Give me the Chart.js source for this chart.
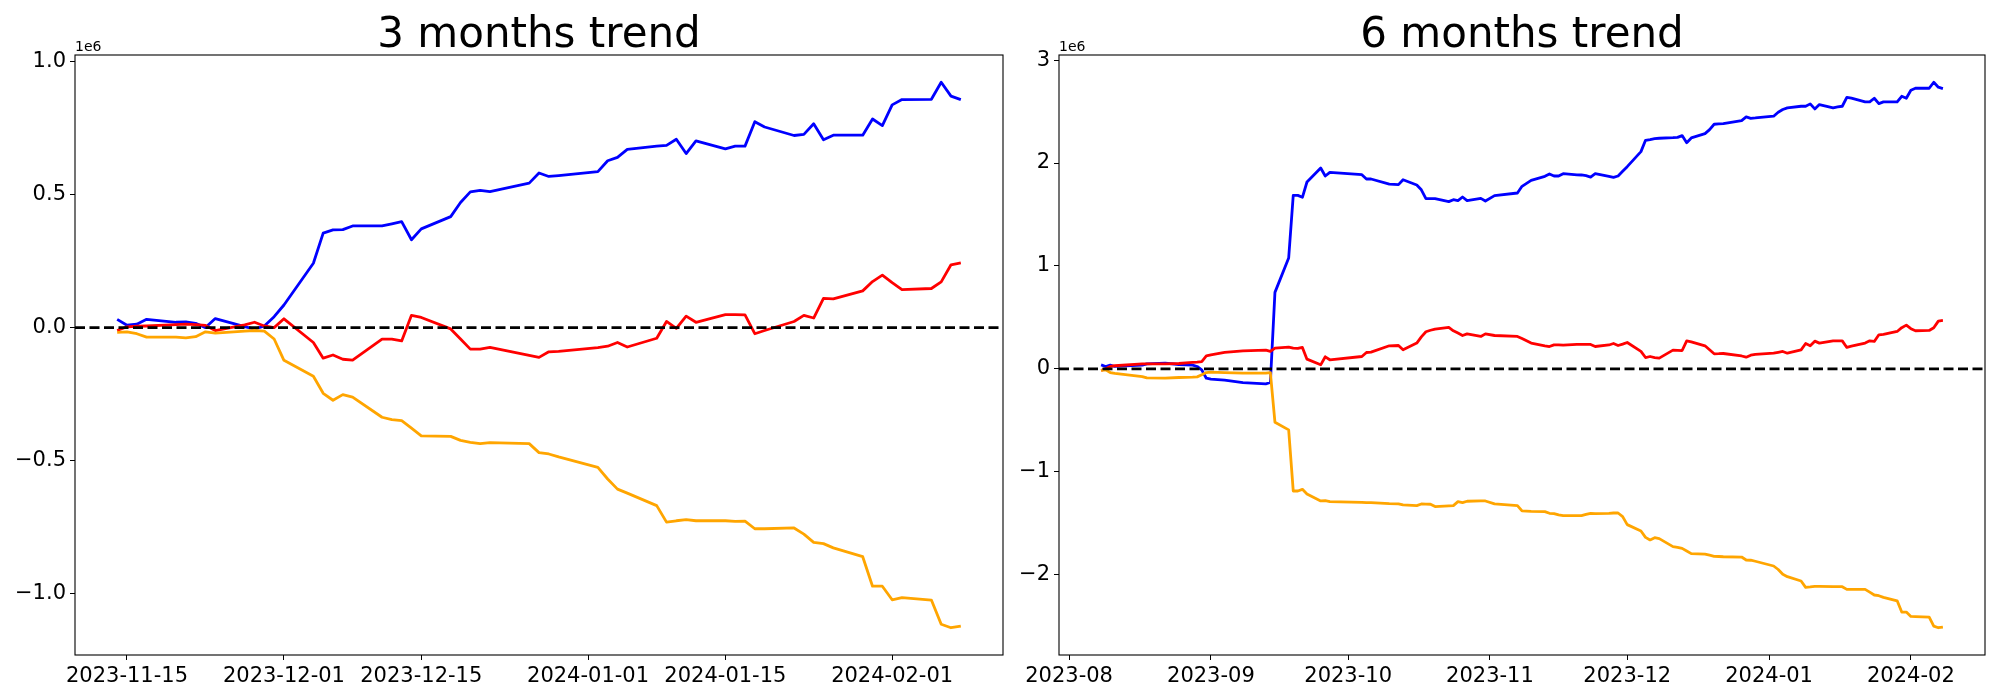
<!DOCTYPE html>
<html>
<head>
<meta charset="utf-8">
<script src="https://cdn.jsdelivr.net/npm/chart.js@4.4.1/dist/chart.umd.min.js"></script>
<style>
  body { margin: 0; background: #fff; }
  #wrap { position: relative; width: 2000px; height: 700px; }
  canvas { position: absolute; top: 0; }
</style>
</head>
<body>
<div id="wrap">
  <canvas id="chart3m" width="1010" height="700" style="left:0"></canvas>
  <canvas id="chart6m" width="990" height="700" style="left:1010px"></canvas>
</div>
<script>
// values are in millions (axis shows the 1e6 offset)
const dates3 = [
    '2023-11-14', '2023-11-15', '2023-11-16', '2023-11-17', '2023-11-20', '2023-11-21', '2023-11-22', '2023-11-23', '2023-11-24',
    '2023-11-27', '2023-11-28', '2023-11-29', '2023-11-30', '2023-12-01', '2023-12-04', '2023-12-05', '2023-12-06', '2023-12-07',
    '2023-12-08', '2023-12-11', '2023-12-12', '2023-12-13', '2023-12-14', '2023-12-15', '2023-12-18', '2023-12-19', '2023-12-20',
    '2023-12-21', '2023-12-22', '2023-12-26', '2023-12-27', '2023-12-28', '2023-12-29', '2024-01-02', '2024-01-03', '2024-01-04',
    '2024-01-05', '2024-01-08', '2024-01-09', '2024-01-10', '2024-01-11', '2024-01-12', '2024-01-15', '2024-01-16', '2024-01-17',
    '2024-01-18', '2024-01-19', '2024-01-22', '2024-01-23', '2024-01-24', '2024-01-25', '2024-01-26', '2024-01-29', '2024-01-30',
    '2024-01-31', '2024-02-01', '2024-02-02', '2024-02-05', '2024-02-06', '2024-02-07', '2024-02-08'
];
const blue3 = [
    0.031, 0.009, 0.013, 0.031, 0.020, 0.021, 0.016, 0.000, 0.034,
    0.004, -0.006, 0.006, 0.041, 0.085, 0.242, 0.355, 0.367, 0.368,
    0.382, 0.382, 0.390, 0.398, 0.330, 0.371, 0.417, 0.470, 0.510,
    0.516, 0.511, 0.543, 0.581, 0.568, 0.571, 0.586, 0.627, 0.640,
    0.670, 0.682, 0.685, 0.708, 0.654, 0.702, 0.672, 0.682, 0.682,
    0.774, 0.754, 0.722, 0.726, 0.766, 0.706, 0.723, 0.723, 0.784,
    0.759, 0.837, 0.857, 0.858, 0.922, 0.870, 0.857
];
const red3 = [
    -0.011, 0.003, 0.005, 0.006, 0.011, 0.013, 0.011, 0.008, -0.011,
    0.010, 0.020, 0.006, 0.000, 0.033, -0.056, -0.115, -0.103, -0.119,
    -0.122, -0.043, -0.043, -0.050, 0.046, 0.038, -0.005, -0.043, -0.081,
    -0.081, -0.074, -0.104, -0.112, -0.091, -0.089, -0.075, -0.070, -0.056,
    -0.073, -0.040, 0.023, -0.003, 0.043, 0.020, 0.049, 0.049, 0.048,
    -0.023, -0.011, 0.023, 0.046, 0.036, 0.110, 0.108, 0.138, 0.173,
    0.197, 0.169, 0.143, 0.147, 0.172, 0.236, 0.243
];
const orange3 = [
    -0.018, -0.016, -0.023, -0.036, -0.036, -0.039, -0.034, -0.016, -0.021,
    -0.013, -0.011, -0.013, -0.043, -0.123, -0.183, -0.247, -0.273, -0.252,
    -0.261, -0.337, -0.346, -0.350, -0.378, -0.407, -0.409, -0.424, -0.431,
    -0.436, -0.432, -0.436, -0.470, -0.475, -0.486, -0.525, -0.569, -0.607,
    -0.622, -0.669, -0.731, -0.726, -0.722, -0.726, -0.726, -0.728, -0.727,
    -0.756, -0.756, -0.753, -0.776, -0.807, -0.812, -0.828, -0.861, -0.972,
    -0.972, -1.023, -1.015, -1.024, -1.115, -1.128, -1.122
];

const dates6 = [
    '2023-08-08', '2023-08-09', '2023-08-10', '2023-08-11', '2023-08-17', '2023-08-18', '2023-08-22', '2023-08-25', '2023-08-28',
    '2023-08-29', '2023-08-30', '2023-08-31', '2023-09-01', '2023-09-04', '2023-09-08', '2023-09-13', '2023-09-14', '2023-09-15',
    '2023-09-18', '2023-09-19', '2023-09-20', '2023-09-21', '2023-09-22', '2023-09-25', '2023-09-26', '2023-09-27', '2023-10-04',
    '2023-10-05', '2023-10-06', '2023-10-10', '2023-10-12', '2023-10-13', '2023-10-16', '2023-10-17', '2023-10-18', '2023-10-19',
    '2023-10-20', '2023-10-23', '2023-10-24', '2023-10-25', '2023-10-26', '2023-10-27', '2023-10-30', '2023-10-31', '2023-11-02',
    '2023-11-07', '2023-11-08', '2023-11-10', '2023-11-13', '2023-11-14', '2023-11-15', '2023-11-16', '2023-11-17', '2023-11-20',
    '2023-11-21', '2023-11-22', '2023-11-23', '2023-11-24', '2023-11-27', '2023-11-28', '2023-11-29', '2023-11-30', '2023-12-01',
    '2023-12-04', '2023-12-05', '2023-12-06', '2023-12-07', '2023-12-08', '2023-12-11', '2023-12-12', '2023-12-13', '2023-12-14',
    '2023-12-15', '2023-12-18', '2023-12-19', '2023-12-20', '2023-12-21', '2023-12-22', '2023-12-26', '2023-12-27', '2023-12-28',
    '2023-12-29', '2024-01-02', '2024-01-03', '2024-01-04', '2024-01-05', '2024-01-08', '2024-01-09', '2024-01-10', '2024-01-11',
    '2024-01-12', '2024-01-15', '2024-01-16', '2024-01-17', '2024-01-18', '2024-01-19', '2024-01-22', '2024-01-23', '2024-01-24',
    '2024-01-25', '2024-01-26', '2024-01-29', '2024-01-30', '2024-01-31', '2024-02-01', '2024-02-02', '2024-02-05', '2024-02-06',
    '2024-02-07', '2024-02-08'
];
const blue6 = [
    0.039, 0.023, 0.036, 0.023, 0.036, 0.049, 0.055, 0.042, 0.036,
    0.023, -0.010, -0.091, -0.100, -0.110, -0.133, -0.146, -0.133, 0.743,
    1.077, 1.686, 1.686, 1.667, 1.816, 1.952, 1.874, 1.910, 1.887,
    1.845, 1.845, 1.796, 1.790, 1.838, 1.787, 1.740, 1.654, 1.654,
    1.654, 1.625, 1.644, 1.634, 1.670, 1.634, 1.657, 1.631, 1.683,
    1.709, 1.774, 1.832, 1.871, 1.894, 1.874, 1.874, 1.897, 1.886,
    1.884, 1.877, 1.864, 1.897, 1.870, 1.861, 1.874, 1.920, 1.965,
    2.111, 2.221, 2.228, 2.237, 2.241, 2.247, 2.250, 2.267, 2.198,
    2.244, 2.286, 2.325, 2.377, 2.380, 2.383, 2.412, 2.448, 2.435,
    2.438, 2.455, 2.494, 2.520, 2.536, 2.552, 2.552, 2.575, 2.526,
    2.568, 2.536, 2.545, 2.552, 2.639, 2.630, 2.594, 2.594, 2.630,
    2.578, 2.594, 2.594, 2.649, 2.630, 2.707, 2.727, 2.727, 2.785,
    2.737, 2.724
];
const red6 = [
    -0.016, 0.000, 0.023, 0.030, 0.049, 0.049, 0.049, 0.052, 0.062,
    0.066, 0.071, 0.126, 0.136, 0.159, 0.175, 0.182, 0.169, 0.201,
    0.211, 0.201, 0.198, 0.208, 0.094, 0.039, 0.117, 0.088, 0.120,
    0.159, 0.162, 0.224, 0.227, 0.185, 0.250, 0.310, 0.360, 0.375,
    0.386, 0.402, 0.370, 0.348, 0.324, 0.340, 0.315, 0.340, 0.324,
    0.315, 0.295, 0.250, 0.224, 0.217, 0.233, 0.232, 0.230, 0.237,
    0.237, 0.237, 0.237, 0.217, 0.232, 0.246, 0.227, 0.240, 0.256,
    0.169, 0.110, 0.120, 0.110, 0.104, 0.182, 0.180, 0.178, 0.272,
    0.262, 0.224, 0.185, 0.146, 0.147, 0.149, 0.125, 0.113, 0.133,
    0.140, 0.152, 0.160, 0.169, 0.152, 0.185, 0.246, 0.224, 0.269,
    0.250, 0.272, 0.272, 0.272, 0.208, 0.220, 0.250, 0.272, 0.266,
    0.331, 0.334, 0.363, 0.400, 0.425, 0.390, 0.370, 0.373, 0.399,
    0.464, 0.470
];
const orange6 = [
    -0.016, -0.010, -0.036, -0.045, -0.075, -0.088, -0.090, -0.084, -0.081,
    -0.078, -0.058, -0.036, -0.032, -0.036, -0.042, -0.042, -0.036, -0.519,
    -0.593, -1.187, -1.187, -1.171, -1.216, -1.284, -1.281, -1.291, -1.297,
    -1.300, -1.300, -1.310, -1.313, -1.323, -1.329, -1.313, -1.315, -1.316,
    -1.339, -1.332, -1.329, -1.291, -1.300, -1.287, -1.284, -1.284, -1.313,
    -1.329, -1.381, -1.385, -1.388, -1.404, -1.407, -1.420, -1.427, -1.427,
    -1.427, -1.415, -1.404, -1.407, -1.404, -1.401, -1.401, -1.436, -1.514,
    -1.576, -1.638, -1.663, -1.641, -1.650, -1.728, -1.735, -1.745, -1.770,
    -1.796, -1.800, -1.810, -1.822, -1.824, -1.826, -1.829, -1.858, -1.860,
    -1.870, -1.916, -1.950, -1.997, -2.020, -2.062, -2.124, -2.120, -2.114,
    -2.115, -2.116, -2.117, -2.117, -2.143, -2.143, -2.143, -2.170, -2.198,
    -2.205, -2.221, -2.254, -2.364, -2.364, -2.406, -2.408, -2.412, -2.500,
    -2.516, -2.510
];

const ticks3 = ['2023-11-15', '2023-12-01', '2023-12-15', '2024-01-01', '2024-01-15', '2024-02-01'];
const ticks6 = ['2023-08-01', '2023-09-01', '2023-10-01', '2023-11-01', '2023-12-01', '2024-01-01', '2024-02-01'];

const DAY = 86400000;
function dayNum(s) {
    const p = s.split('-');
    return Date.UTC(+p[0], +p[1] - 1, +p[2]) / DAY;
}
function points(dates, vals) {
    return dates.map((d, i) => ({x: dayNum(d), y: vals[i]}));
}
// matplotlib style 5% margins
function padRange(lo, hi) {
    const m = (hi - lo) * 0.05;
    return [lo - m, hi + m];
}

Chart.defaults.font.family = "'DejaVu Sans'";
Chart.defaults.color = '#000';

const framePlugin = {
    id: 'frame',
    afterDatasetsDraw(chart, args, opts) {
        const a = chart.chartArea;
        const ctx = chart.ctx;
        ctx.save();
        ctx.strokeStyle = '#000';
        ctx.lineWidth = 1.1;
        ctx.strokeRect(a.left, a.top, a.right - a.left, a.bottom - a.top);
        ctx.fillStyle = '#000';
        ctx.textBaseline = 'alphabetic';
        ctx.font = "14px 'DejaVu Sans'";
        ctx.textAlign = 'left';
        ctx.fillText('1e6', a.left, a.top - 4);
        ctx.font = "42px 'DejaVu Sans'";
        ctx.textAlign = 'center';
        ctx.fillText(opts.title, (a.left + a.right) / 2, a.top - 8);
        ctx.restore();
    }
};

function makeChart(id, o) {
    const all = o.blue.concat(o.red, o.orange);
    const yr = padRange(Math.min(...all), Math.max(...all));
    const xr = padRange(dayNum(o.dates[0]), dayNum(o.dates[o.dates.length - 1]));
    const line = (vals, color) => ({
        data: points(o.dates, vals),
        borderColor: color,
        borderWidth: 2.8,
        borderJoinStyle: 'round',
        pointRadius: 0,
        fill: false,
        tension: 0
    });
    const config = {
        type: 'line',
        data: {
            datasets: [
                {
                    data: [{x: xr[0], y: 0}, {x: xr[1], y: 0}],
                    borderColor: '#000',
                    borderWidth: 2.8,
                    borderDash: [10, 4.5],
                    pointRadius: 0,
                    fill: false
                },
                line(o.orange, '#ffa500'),
                line(o.red, '#ff0000'),
                line(o.blue, '#0000ff')
            ]
        },
        options: {
            responsive: false,
            animation: false,
            devicePixelRatio: 1,
            layout: {padding: {top: 55, right: o.padRight, left: 0, bottom: 0}},
            plugins: {
                legend: {display: false},
                tooltip: {enabled: false},
                frame: {title: o.title}
            },
            scales: {
                x: {
                    type: 'linear',
                    min: xr[0],
                    max: xr[1],
                    afterBuildTicks: s => { s.ticks = o.ticks.map(d => ({value: dayNum(d)})); },
                    afterFit: s => { s.height = 45; },
                    ticks: {
                        autoSkip: false,
                        maxRotation: 0,
                        padding: 4,
                        font: {size: 21},
                        callback: v => new Date(v * DAY).toISOString().slice(0, o.labelLen)
                    },
                    grid: {display: true, drawOnChartArea: false, drawTicks: true, tickLength: 5, color: '#000', lineWidth: 1},
                    border: {display: false}
                },
                y: {
                    min: yr[0],
                    max: yr[1],
                    afterFit: s => { s.width = o.yWidth; },
                    ticks: {
                        stepSize: o.yStep,
                        includeBounds: false,
                        padding: 4,
                        font: {size: 21},
                        callback: v => (Math.abs(v) < 1e-9 ? 0 : v).toFixed(o.yDec).replace('-', '\u2212')
                    },
                    grid: {display: true, drawOnChartArea: false, drawTicks: true, tickLength: 5, color: '#000', lineWidth: 1},
                    border: {display: false}
                }
            }
        },
        plugins: [framePlugin]
    };
    return new Chart(document.getElementById(id), config);
}

makeChart('chart3m', {
    title: '3 months trend', dates: dates3, blue: blue3, red: red3, orange: orange3,
    ticks: ticks3, labelLen: 10, yStep: 0.5, yDec: 1, yWidth: 75, padRight: 7
});
makeChart('chart6m', {
    title: '6 months trend', dates: dates6, blue: blue6, red: red6, orange: orange6,
    ticks: ticks6, labelLen: 7, yStep: 1, yDec: 0, yWidth: 49, padRight: 15
});
</script>
</body>
</html>
